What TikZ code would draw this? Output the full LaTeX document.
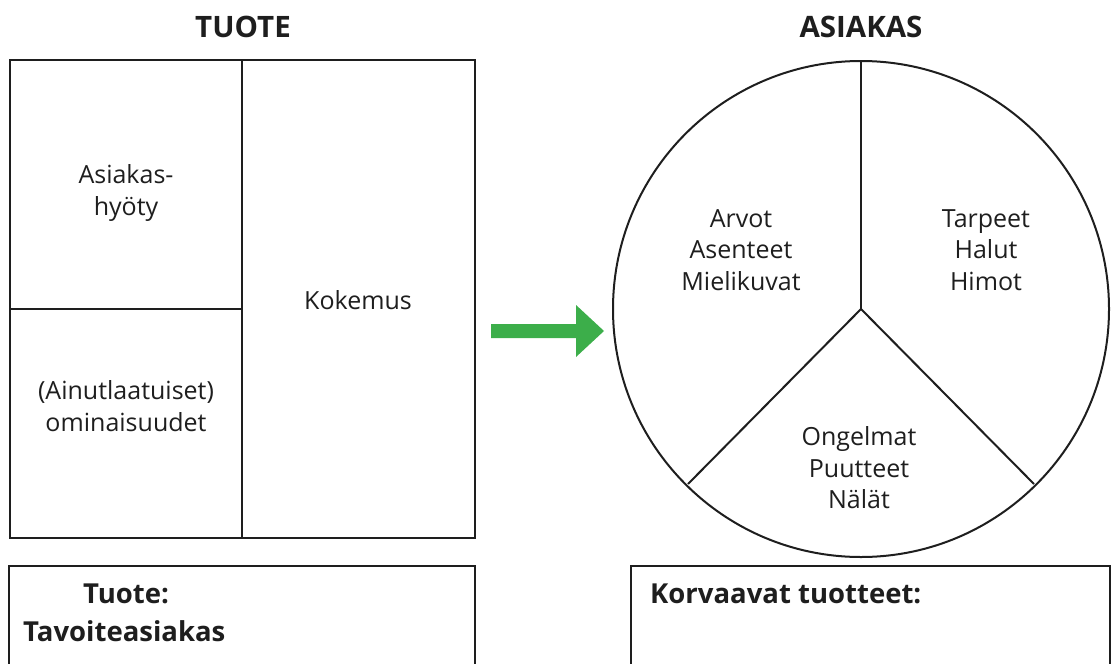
\documentclass[tikz,border=0pt]{standalone}
\usepackage{fontspec}
\setmainfont{Open Sans}
\usetikzlibrary{calc}
\definecolor{arrowgreen}{RGB}{60,174,74}
\definecolor{ink}{RGB}{30,30,30}
\tikzset{
  frame/.style={draw=ink, line width=2pt},
  label/.style={font=\fontsize{25}{31.5}\selectfont, text=ink, align=center, inner sep=0pt},
  heading/.style={font=\bfseries\fontsize{29.5}{34}\selectfont, text=ink, inner sep=0pt},
  boxhead/.style={font=\bfseries\fontsize{27.5}{36}\selectfont, text=ink, align=left, inner sep=0pt, anchor=west},
}
\begin{document}
\begin{tikzpicture}[x=1pt,y=-1pt]
\useasboundingbox (0,0) rectangle (1114,664);
\clip (0,0) rectangle (1114,664);

% headings
\node[heading] (tuote) at (243,27) {TUOTE};
\node[heading] (asiakas) at (861,27) {ASIAKAS};

% product block
\draw[frame] (10,60) rectangle (475,538);
\coordinate (vtop) at (242,60);
\coordinate (vbot) at (242,538);
\coordinate (hl) at (10,309);
\coordinate (hr) at (242,309);
\draw[frame] (vtop) -- (vbot);
\draw[frame] (hl) -- (hr);
\node[label] (hyoty) at (126,193) {Asiakas-\\hyöty};
\node[label] (kokemus) at (358,300) {Kokemus};
\node[label] (omin) at (126,406) {(Ainutlaatuiset)\\ominaisuudet};

% arrow from product to customer
\fill[arrowgreen] (491,324) -- (576,324) -- (576,305) -- (604,331) -- (576,357) -- (576,338) -- (491,338) -- cycle;

% customer circle with three sectors
\coordinate (c) at (861,309);
\draw[frame] (c) circle[radius=248];
\coordinate (ctop) at (861,61);
\coordinate (cleft) at ($(c)+(-173,175)$);
\coordinate (cright) at ($(c)+(173,175)$);
\draw[frame] (c) -- (ctop);
\draw[frame] (c) -- (cleft);
\draw[frame] (c) -- (cright);
\node[label] (arvot) at (741,250) {Arvot\\Asenteet\\Mielikuvat};
\node[label] (tarpeet) at (986,250) {Tarpeet\\Halut\\Himot};
\node[label] (ongelmat) at (859,468) {Ongelmat\\Puutteet\\Nälät};

% lower boxes
\draw[frame] (9,566) rectangle (475,690);
\draw[frame] (631,566) rectangle (1110,690);
\node[boxhead] (tuotebox) at (83,594) {Tuote:};
\node[boxhead] (tavoite) at (23,631) {Tavoiteasiakas};
\node[boxhead] (korvaavat) at (650,594) {Korvaavat tuotteet:};
\end{tikzpicture}
\end{document}
